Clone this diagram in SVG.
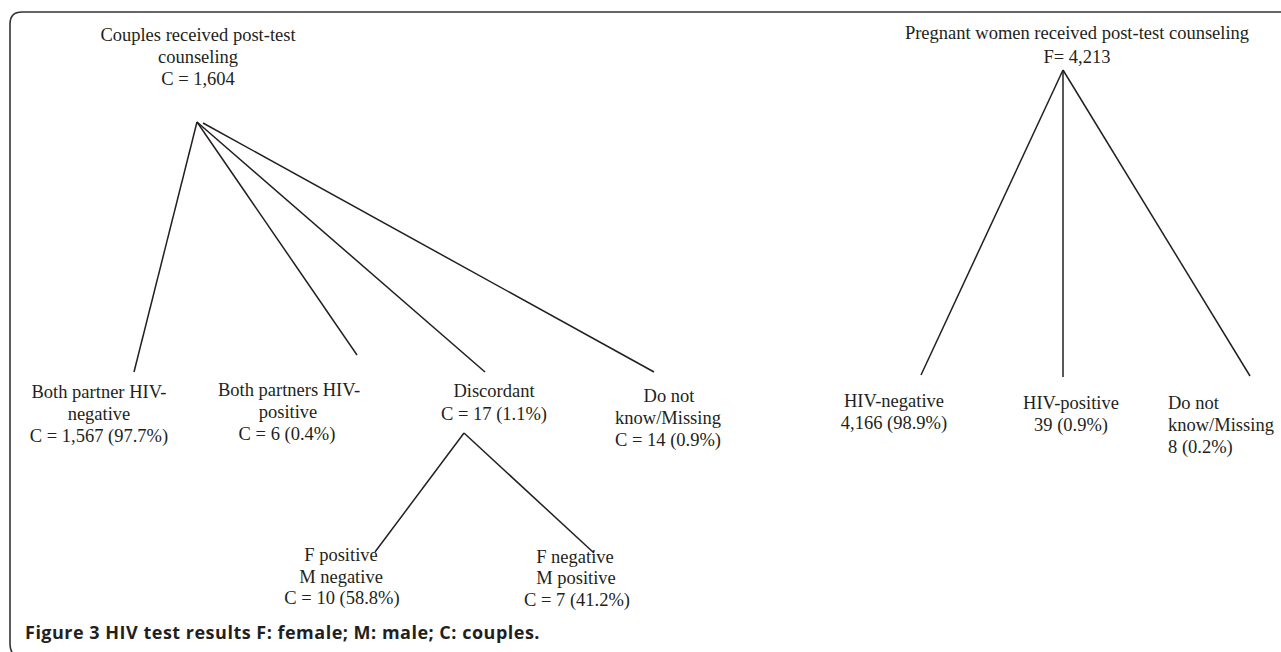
<svg xmlns="http://www.w3.org/2000/svg" width="1281" height="652" viewBox="0 0 1281 652">
<style>
.t{font-family:"Liberation Serif","Times New Roman",serif;font-size:18.5px;fill:#231f20;text-anchor:middle}
.l{text-anchor:start}
.cap{font-family:"Open Sans","Liberation Sans",sans-serif;font-size:18px;letter-spacing:0.5px;font-weight:bold;fill:#231f20}
.e{stroke:#231f20;stroke-width:1.5;fill:none}
</style>
<rect width="1281" height="652" fill="#fff"/>
<path d="M1281,12 H22 Q10,12 10,24 V644 Q10,650 13,654" fill="none" stroke="#333" stroke-width="1.6"/>
<g id="connectors">
<line class="e" x1="197" y1="122" x2="134" y2="372"/>
<line class="e" x1="197" y1="122" x2="357" y2="355"/>
<line class="e" x1="197" y1="122" x2="485" y2="372"/>
<line class="e" x1="203" y1="123" x2="654" y2="372"/>
<line class="e" x1="464" y1="433" x2="375" y2="552"/>
<line class="e" x1="464" y1="433" x2="594" y2="553"/>
<line class="e" x1="1063" y1="70" x2="921" y2="375"/>
<line class="e" x1="1063" y1="70" x2="1063" y2="377"/>
<line class="e" x1="1063" y1="70" x2="1250" y2="376"/>
</g>
<g id="couples-root"><text class="t" x="198" y="41">Couples received post-test</text><text class="t" x="198" y="63">counseling</text><text class="t" x="198" y="85">C = 1,604</text></g>
<g id="both-negative"><text class="t" x="99" y="398">Both partner HIV-</text><text class="t" x="99" y="420">negative</text><text class="t" x="99" y="442">C = 1,567 (97.7%)</text></g>
<g id="both-positive"><text class="t" x="289" y="396">Both partners HIV-</text><text class="t" x="288" y="418">positive</text><text class="t" x="287" y="440">C = 6 (0.4%)</text></g>
<g id="discordant"><text class="t" x="494" y="397">Discordant</text><text class="t" x="494" y="420">C = 17 (1.1%)</text></g>
<g id="dont-know-couples"><text class="t" x="669" y="402">Do not</text><text class="t" x="668" y="424">know/Missing</text><text class="t" x="668" y="446">C = 14 (0.9%)</text></g>
<g id="f-positive"><text class="t" x="341" y="561">F positive</text><text class="t" x="341" y="583">M negative</text><text class="t" x="342" y="604">C = 10 (58.8%)</text></g>
<g id="f-negative"><text class="t" x="575" y="563">F negative</text><text class="t" x="576" y="584">M positive</text><text class="t" x="577" y="606">C = 7 (41.2%)</text></g>
<g id="pregnant-root"><text class="t" x="1077" y="39">Pregnant women received post-test counseling</text><text class="t" x="1077" y="63">F= 4,213</text></g>
<g id="hiv-negative"><text class="t" x="894" y="407">HIV-negative</text><text class="t" x="894" y="429">4,166 (98.9%)</text></g>
<g id="hiv-positive"><text class="t" x="1071" y="409">HIV-positive</text><text class="t" x="1071" y="431">39 (0.9%)</text></g>
<g id="dont-know-women"><text class="t l" x="1168" y="409">Do not</text><text class="t l" x="1168" y="431">know/Missing</text><text class="t l" x="1168" y="453">8 (0.2%)</text></g>
<text class="cap" x="25" y="639">Figure 3 HIV test results F: female; M: male; C: couples.</text>
</svg>
